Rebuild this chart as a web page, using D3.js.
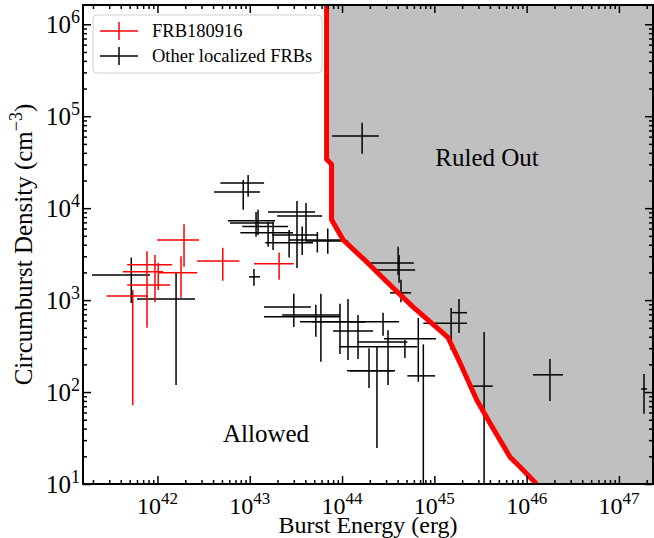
<!DOCTYPE html>
<html>
<head>
<meta charset="utf-8">
<script src="https://cdn.jsdelivr.net/npm/d3@7"></script>
<style>
body { margin: 0; background: #fff; }
text { font-family: "Liberation Serif", "Times New Roman", serif; fill: #000; }
</style>
</head>
<body>
<svg id="chart" width="654" height="538"></svg>
<script>
// other localized FRBs: energy (erg) and circumburst density (cm^-3), with error bounds
var otherE   = [1.65e44, 9.6e42, 8.5e42, 3.25e43, 4.07e43, 1.23e43, 1.17e43, 1.58e43, 1.79e43, 3.7e43, 5.4e43, 7.0e43, 2.67e43, 1.11e43, 5.2e41, 1.59e42, 3.0e43, 5.2e43, 5.9e43, 9.5e43, 1.16e44, 2.78e44, 1.49e44, 6.7e44, 3.15e44, 4.8e44, 1.96e44, 2.39e44, 7.6e44, 4.05e44, 4.15e44, 4.35e44, 1.52e45, 1.85e45, 3.46e45, 1.79e46, 1.87e47];
var otherElo = [7.8e43, 4.8e42, 4.1e42, 1.58e43, 1.98e43, 5.8e42, 6.1e42, 8.3e42, 7.9e42, 1.75e43, 2.7e43, 4.0e43, 1.47e43, 9.8e42, 1.95e41, 6.0e41, 1.43e43, 1.43e43, 2.24e43, 4.7e43, 3.5e43, 1.22e44, 8.0e43, 2.85e44, 1.46e44, 9.3e43, 1.13e44, 1.22e44, 5.1e44, 1.91e44, 2.39e44, 3.3e44, 7.6e44, 1.56e45, 2.62e45, 1.17e46, 1.74e47];
var otherEhi = [2.5e44, 1.43e43, 1.29e43, 5.1e43, 6.1e43, 1.88e43, 1.79e43, 2.6e43, 2.94e43, 5.5e43, 9.5e43, 1.16e44, 4.85e43, 1.29e43, 8.3e41, 2.55e42, 4.6e43, 9.5e43, 9.5e43, 1.77e44, 1.82e44, 4.15e44, 2.17e44, 1.04e45, 5.1e44, 6.5e44, 3.57e44, 3.75e44, 1.02e45, 6.0e44, 6.2e44, 5.6e44, 2.26e45, 2.26e45, 4.3e45, 2.48e46, 2.02e47];
var otherN   = [6.1e4, 1.88e4, 1.5e4, 9.1e3, 8.2e3, 7.3e3, 6.9e3, 6.3e3, 5.4e3, 5.1e3, 4.5e3, 4.4e3, 4.2e3, 1.79e3, 1.88e3, 1.03e3, 840, 660, 690, 580, 580, 580, 460, 380, 350, 310, 170, 170, 150, 2540, 2130, 1200, 560, 730, 116, 154, 108];
var otherNlo = [3.9e4, 1.33e4, 9.6e3, 2.24e3, 4.5e3, 5.1e3, 4.9e3, 3.8e3, 3.5e3, 3.1e3, 3.3e3, 3.2e3, 2.9e3, 1.43e3, 930, 119, 510, 400, 213, 260, 223, 410, 229, 129, 119, 235, 111, 24.7, 1, 1880, 1540, 950, 287, 440, 1, 80, 58];
var otherNhi = [8.5e4, 2.3e4, 2.03e4, 1.2e4, 1.14e4, 9.6e3, 9.1e3, 7.1e3, 7.1e3, 6.3e3, 5.5e3, 6.0e3, 5.8e3, 2.18e3, 2.9e3, 1.98e3, 1170, 890, 1170, 910, 1030, 730, 690, 640, 470, 370, 300, 310, 330, 3800, 3100, 1660, 820, 1030, 450, 229, 157];

// FRB 180916
var frbE   = [1.94e42, 5.1e42, 2.08e43, 7.7e41, 9.4e41, 1.8e42, 1.02e42, 5.4e41];
var frbElo = [9.9e41, 2.69e42, 1.11e43, 4.7e41, 4.2e41, 1.02e42, 4.7e41, 2.8e41];
var frbEhi = [2.82e42, 7.7e42, 3.0e43, 1.44e42, 1.15e42, 2.69e42, 1.37e42, 7.9e41];
var frbN   = [4.5e3, 2.67e3, 2.48e3, 2.42e3, 2.03e3, 1.98e3, 1.46e3, 1.11e3];
var frbNlo = [2.3e3, 1.62e3, 1.66e3, 500, 950, 1.06e3, 1.29e3, 72];
var frbNhi = [6.7e3, 3.7e3, 3.3e3, 3.4e3, 3.1e3, 3.0e3, 2.54e3, 1.29e3];

// ruled-out boundary
var boundaryE = [6.8e43, 6.8e43, 7.7e43, 7.7e43, 1.03e44, 1.85e44, 3.05e44, 5.9e44, 1.2e45, 1.41e45, 1.9e45, 2.88e45, 4.0e45, 6.6e45, 8.5e45, 1.28e46];
var boundaryN = [2e6, 3.4e4, 3.0e4, 7.5e3, 4.5e3, 2.6e3, 1.58e3, 840, 450, 390, 207, 82, 46, 19.7, 15.3, 10];

var xMajor = [42, 43, 44, 45, 46, 47];
var yMajor = [1, 2, 3, 4, 5, 6];

var svg = d3.select("#chart");
var plotL = 83, plotR = 653, plotT = 5, plotB = 484;

var x = d3.scaleLog().domain([1.56e41, 2.34e47]).range([plotL, plotR]);
var y = d3.scaleLog().domain([10, 1.62e6]).range([plotB, plotT]);

svg.append("defs").append("clipPath").attr("id", "plotclip")
  .append("rect").attr("x", plotL).attr("y", plotT)
  .attr("width", plotR - plotL).attr("height", plotB - plotT);

var plot = svg.append("g").attr("clip-path", "url(#plotclip)");

// shaded ruled out region
var pts = boundaryE.map(function(e, i) { return [x(e), y(boundaryN[i])]; });
var poly = pts.concat([[plotR + 10, plotB + 10], [plotR + 10, plotT - 10], [pts[0][0], plotT - 10]]);
plot.append("path")
  .attr("d", d3.line()(poly) + "Z")
  .attr("fill", "#c0c0c0");

function errorbars(E, Elo, Ehi, N, Nlo, Nhi, color) {
  var g = plot.append("g").attr("stroke", color).attr("stroke-width", 1.5);
  E.forEach(function(e, i) {
    g.append("line")
      .attr("x1", x(Elo[i])).attr("x2", x(Ehi[i]))
      .attr("y1", y(N[i])).attr("y2", y(N[i]));
    g.append("line")
      .attr("x1", x(e)).attr("x2", x(e))
      .attr("y1", y(Math.max(Nlo[i], 1))).attr("y2", y(Nhi[i]));
  });
}

errorbars(otherE, otherElo, otherEhi, otherN, otherNlo, otherNhi, "#000");

plot.append("path")
  .attr("d", d3.line()(pts))
  .attr("fill", "none")
  .attr("stroke", "#ff0000")
  .attr("stroke-width", 5)
  .attr("stroke-linejoin", "round");

errorbars(frbE, frbElo, frbEhi, frbN, frbNlo, frbNhi, "#ff0000");

// ticks
function minorTicks(lo, hi) {
  var r = [];
  for (var k = lo; k <= hi; k++) {
    for (var m = 2; m <= 9; m++) r.push(m * Math.pow(10, k));
  }
  return r;
}
var xMinor = minorTicks(41, 47).filter(function(v) { return v > x.domain()[0] && v < x.domain()[1]; });
var yMinor = minorTicks(1, 6).filter(function(v) { return v > y.domain()[0] && v < y.domain()[1]; });
var xMaj = xMajor.map(function(k) { return Math.pow(10, k); });
var yMaj = yMajor.map(function(k) { return Math.pow(10, k); });

function tickAxis(axisFn, scale, tr, vals, size) {
  var g = svg.append("g").attr("transform", tr)
    .call(axisFn(scale).tickValues(vals).tickSizeInner(-size).tickSizeOuter(0).tickFormat(""));
  g.select(".domain").remove();
  g.selectAll(".tick line").attr("stroke", "#000").attr("stroke-width", 1.5);
}
tickAxis(d3.axisBottom, x, "translate(0," + plotB + ")", xMaj, 8);
tickAxis(d3.axisBottom, x, "translate(0," + plotB + ")", xMinor, 4);
tickAxis(d3.axisTop, x, "translate(0," + plotT + ")", xMaj, 8);
tickAxis(d3.axisTop, x, "translate(0," + plotT + ")", xMinor, 4);
tickAxis(d3.axisLeft, y, "translate(" + plotL + ",0)", yMaj, 8);
tickAxis(d3.axisLeft, y, "translate(" + plotL + ",0)", yMinor, 4);
tickAxis(d3.axisRight, y, "translate(" + plotR + ",0)", yMaj, 8);
tickAxis(d3.axisRight, y, "translate(" + plotR + ",0)", yMinor, 4);

svg.append("rect")
  .attr("x", plotL).attr("y", plotT)
  .attr("width", plotR - plotL).attr("height", plotB - plotT)
  .attr("fill", "none").attr("stroke", "#000").attr("stroke-width", 2);

// tick labels
xMajor.forEach(function(k) {
  var t = svg.append("text")
    .attr("x", x(Math.pow(10, k))).attr("y", 514)
    .attr("text-anchor", "middle").attr("font-size", 24);
  t.append("tspan").text("10");
  t.append("tspan").attr("dy", -10).attr("font-size", 17).text(k);
});
yMajor.forEach(function(k) {
  var t = svg.append("text")
    .attr("x", 80).attr("y", y(Math.pow(10, k)) + 8.5)
    .attr("text-anchor", "end").attr("font-size", 25);
  t.append("tspan").text("10");
  t.append("tspan").attr("dy", -10).attr("font-size", 18).text(k);
});

// axis labels
svg.append("text")
  .attr("x", (plotL + plotR) / 2).attr("y", 533)
  .attr("text-anchor", "middle").attr("font-size", 24)
  .text("Burst Energy (erg)");

var yl = svg.append("text")
  .attr("transform", "translate(32," + ((plotT + plotB) / 2) + ") rotate(-90)")
  .attr("text-anchor", "middle").attr("font-size", 25);
yl.append("tspan").text("Circumburst Density (cm");
yl.append("tspan").attr("dy", -10).attr("font-size", 18).text("\u22123");
yl.append("tspan").attr("dy", 10).text(")");

// region labels
svg.append("text").attr("x", 487).attr("y", 166)
  .attr("text-anchor", "middle").attr("font-size", 25).text("Ruled Out");
svg.append("text").attr("x", 266).attr("y", 442)
  .attr("text-anchor", "middle").attr("font-size", 25).text("Allowed");

// legend
var legend = svg.append("g");
legend.append("rect")
  .attr("x", 93).attr("y", 15).attr("width", 229).attr("height", 58)
  .attr("rx", 4).attr("fill", "#fff").attr("fill-opacity", 0.8)
  .attr("stroke", "#d0d0d0").attr("stroke-width", 1);
var entries = [["FRB180916", "#ff0000", 31], ["Other localized FRBs", "#000", 56]];
entries.forEach(function(d) {
  legend.append("line").attr("x1", 100).attr("x2", 138)
    .attr("y1", d[2]).attr("y2", d[2]).attr("stroke", d[1]).attr("stroke-width", 1.5);
  legend.append("line").attr("x1", 119).attr("x2", 119)
    .attr("y1", d[2] - 9).attr("y2", d[2] + 9).attr("stroke", d[1]).attr("stroke-width", 1.5);
  legend.append("text").attr("x", 152).attr("y", d[2] + 6)
    .attr("font-size", 18.5).text(d[0]);
});
</script>
</body>
</html>
